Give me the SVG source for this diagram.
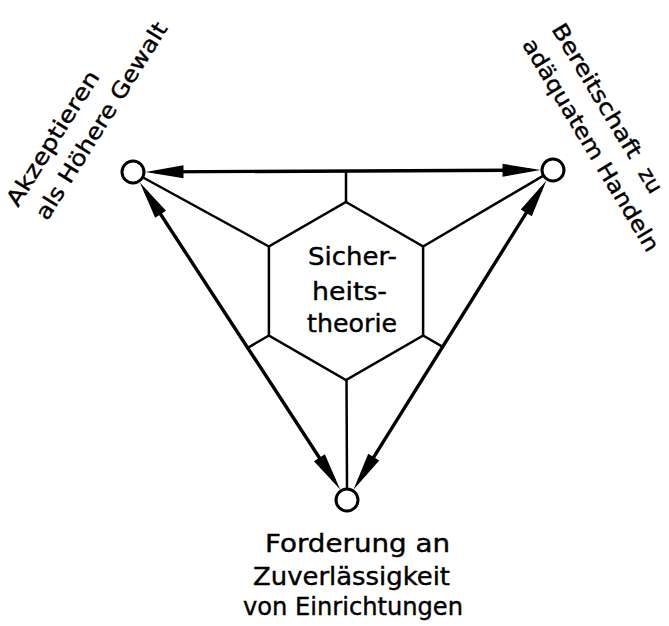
<svg xmlns="http://www.w3.org/2000/svg" width="669" height="626" viewBox="0 0 669 626">
  <style>
    .lbl { font-family: "DejaVu Sans", "Liberation Sans", sans-serif; font-size: 22px; fill: #000; stroke: #000; stroke-width: 0.4; }
    .ctr { font-family: "DejaVu Sans", "Liberation Sans", sans-serif; font-size: 25px; fill: #000; stroke: #000; stroke-width: 0.4; }
    .bot { font-family: "DejaVu Sans", "Liberation Sans", sans-serif; font-size: 24px; fill: #000; stroke: #000; stroke-width: 0.4; }
    .thin { stroke: #000; stroke-width: 2.5; fill: none; stroke-linecap: round; }
    .arrow { stroke: #000; stroke-width: 3.4; fill: none; marker-start: url(#ah); marker-end: url(#ah); }
    .node { stroke: #000; stroke-width: 3; fill: #fff; }
  </style>
  <defs>
    <marker id="ah" markerUnits="userSpaceOnUse" markerWidth="40" markerHeight="14" refX="28" refY="6.5" orient="auto-start-reverse" overflow="visible">
      <path d="M0,0 L38,6.5 L0,13 Z" fill="#000"/>
    </marker>
  </defs>
  <rect width="669" height="626" fill="#fff"/>

  <g id="connectors">
    <line class="arrow" x1="155.5" y1="171.9" x2="530.5" y2="170.1"/>
    <line class="arrow" x1="145.3" y1="190.8" x2="334.7" y2="481.2"/>
    <line class="arrow" x1="541.1" y1="189.1" x2="358.9" y2="480.9"/>
    <line class="thin" x1="346" y1="202" x2="346" y2="171"/>
    <line class="thin" x1="268.9" y1="246.5" x2="144" y2="178"/>
    <line class="thin" x1="423.1" y1="246.5" x2="542.2" y2="176.3"/>
    <line class="thin" x1="346.5" y1="380" x2="347" y2="487.5"/>
    <line class="thin" x1="268.9" y1="335.5" x2="247.7" y2="347.8"/>
    <line class="thin" x1="423.1" y1="335.5" x2="442.7" y2="346.8"/>
  </g>

  <g id="hexagon">
    <polygon class="thin" points="346,202 423.1,246.5 423.1,335.5 346,380 268.9,335.5 268.9,246.5"/>
    <text class="ctr" x="308" y="265" textLength="89" lengthAdjust="spacingAndGlyphs">Sicher-</text>
    <text class="ctr" x="312" y="300" textLength="75" lengthAdjust="spacingAndGlyphs">heits-</text>
    <text class="ctr" x="307" y="332" textLength="90" lengthAdjust="spacingAndGlyphs">theorie</text>
  </g>

  <g id="node-left">
    <circle class="node" cx="133" cy="172" r="11"/>
    <g transform="translate(18,208) rotate(-58)">
      <text class="lbl" x="0" y="0" textLength="155" lengthAdjust="spacingAndGlyphs">Akzeptieren</text>
      <text class="lbl" x="4" y="32" textLength="228" lengthAdjust="spacingAndGlyphs">als Höhere Gewalt</text>
    </g>
  </g>

  <g id="node-right">
    <circle class="node" cx="553" cy="170" r="11"/>
    <g transform="translate(551,29) rotate(59)">
      <text class="lbl" x="0" y="0"><tspan textLength="153" lengthAdjust="spacingAndGlyphs">Bereitschaft</tspan> <tspan x="168" textLength="26" lengthAdjust="spacingAndGlyphs">zu</tspan></text>
      <text class="lbl" x="-2" y="33" textLength="244" lengthAdjust="spacingAndGlyphs">adäquatem Handeln</text>
    </g>
  </g>

  <g id="node-bottom">
    <circle class="node" cx="347" cy="500" r="11"/>
    <text class="bot" x="265" y="552" textLength="185" lengthAdjust="spacingAndGlyphs">Forderung an</text>
    <text class="bot" x="253" y="585" textLength="197" lengthAdjust="spacingAndGlyphs">Zuverlässigkeit</text>
    <text class="bot" x="243" y="615" textLength="220" lengthAdjust="spacingAndGlyphs">von Einrichtungen</text>
  </g>
</svg>
